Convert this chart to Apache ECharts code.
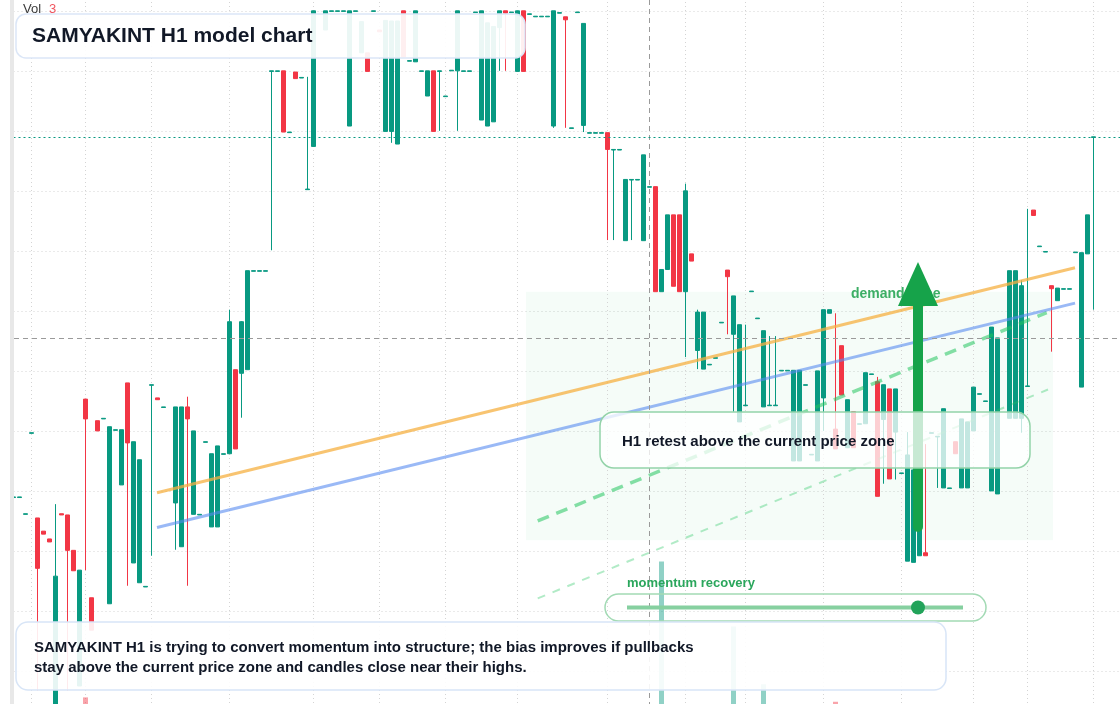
<!DOCTYPE html>
<html>
<head>
<meta charset="utf-8">
<title>SAMYAKINT H1 model chart</title>
<script src="https://cdn.jsdelivr.net/npm/echarts@6.0.0/dist/echarts.min.js"></script>
<style>
  html, body { margin: 0; padding: 0; background: #ffffff; }
  #chart { width: 1120px; height: 704px; }
</style>
</head>
<body>
<div id="chart"></div>
<script>
// H1 candles: [open, close] or [open, close, low, high]
// null = bar that is not on screen
const candles = [
  [103.89, 103.90], [103.89, 103.90], [103.61, 103.62], [104.96, 104.97], [103.55, 102.71, 100.68, 103.55],
  [103.33, 103.28], [103.20, 103.15], [100.25, 102.58, 100.25, 103.78], [103.62, 103.60], [103.60, 103.01, 100.68, 103.60],
  [103.01, 102.67], [100.75, 102.68], [105.53, 105.20, 102.68, 105.53], [102.22, 101.68], [105.17, 105.00],
  [105.20, 105.21], [102.12, 105.07], [105.01, 105.02], [104.10, 105.02], [105.80, 104.80, 102.42, 105.80],
  [102.80, 104.82], [102.47, 104.52], [102.40, 102.41], [105.76, 105.77, 102.92, 105.77], [105.55, 105.52],
  [105.39, 105.40], null, [103.80, 105.40, 103.02, 105.40], [103.07, 105.40], [105.40, 105.20, 102.42, 105.57],
  [103.61, 105.00], [103.60, 103.61], [104.81, 104.82], [103.40, 104.62], [103.40, 104.75],
  [104.61, 104.62], [104.62, 106.82, 104.62, 107.02], [106.02, 104.70], [105.96, 106.82, 105.22, 106.83], [106.02, 107.67],
  [107.66, 107.67], [107.66, 107.67], [107.66, 107.67], [110.99, 111.00, 108.01, 111.00], [110.99, 111.00],
  [111.00, 109.98], [109.97, 109.98], [110.98, 110.87], [110.88, 110.89], [109.02, 109.03, 109.02, 110.90],
  [109.74, 112.00], null, [111.68, 112.00], [111.99, 112.00], [111.99, 112.00],
  [111.99, 112.00], [110.08, 112.00], [111.99, 112.00], [111.30, 111.82], [111.30, 110.99],
  [111.99, 112.00], [111.68, 111.65], [109.99, 111.84], [109.99, 111.83, 109.80, 111.83], [109.78, 111.83],
  [112.00, 111.23], [111.16, 111.17], [111.15, 112.00], [110.99, 111.00], [110.58, 111.00],
  [111.00, 109.99], [110.99, 111.00, 110.00, 111.00], [110.57, 110.58], [111.00, 111.01], [111.00, 112.00, 110.00, 112.00],
  [110.99, 111.00], [110.99, 111.00], [111.97, 111.98], [110.18, 112.00], [110.08, 111.80],
  [110.15, 111.74], [111.72, 112.00, 111.00, 112.00], [112.00, 111.96, 111.00, 112.00], [111.97, 111.98], [110.99, 112.00],
  [112.00, 110.99], [111.94, 111.95], [111.90, 111.91], [111.90, 111.91], [111.90, 111.91],
  [110.08, 112.00, 110.05, 112.00], [111.96, 111.97], [111.90, 111.85, 110.05, 111.90], [110.04, 110.05], [111.97, 111.98],
  [110.09, 111.79, 109.98, 111.79], [109.96, 109.97], [109.96, 109.97], [109.96, 109.97], [109.97, 109.69, 108.18, 109.97],
  [109.68, 109.69, 108.18, 109.69], [109.68, 109.69], [108.17, 109.19], [109.18, 109.19, 108.18, 109.19], [109.18, 109.19],
  [108.17, 109.60], [109.06, 109.07], [109.07, 107.32], [107.32, 107.69], [107.69, 108.60],
  [108.60, 107.41], [108.60, 107.32], [107.32, 109.00, 106.23, 109.12], [107.95, 107.83], [106.34, 106.98, 106.03, 107.02],
  [106.03, 106.98], [106.10, 106.11], [106.21, 106.22], [106.80, 106.81], [107.68, 107.57, 106.61, 107.68],
  [106.61, 107.25, 105.32, 107.25], [105.15, 106.77], [105.42, 105.43, 105.42, 106.77], [107.32, 107.33], [106.87, 106.88],
  [105.40, 106.67], [105.42, 105.43, 105.42, 106.58], [105.42, 105.43, 105.42, 106.58], [106.00, 106.01], [106.00, 106.01],
  [104.50, 106.01], [104.50, 106.01], [105.76, 105.77], [104.60, 104.61], [104.50, 106.00],
  [105.55, 107.02, 105.00, 107.02], [106.96, 107.02], [105.03, 104.70, 104.70, 106.96], [106.42, 105.60], [104.72, 105.52],
  [105.32, 104.72], [105.11, 105.12], [105.12, 105.97], [105.94, 105.95], [105.82, 103.91, 103.91, 105.90],
  [105.19, 105.77, 104.12, 105.77], [105.70, 104.20], [104.98, 105.70, 104.19, 105.70], [104.29, 104.30], [102.83, 104.60, 102.83, 104.98],
  [102.81, 104.35], [102.92, 103.85], [102.97, 102.92, 102.92, 104.78], [104.96, 104.97], [104.90, 104.91, 104.05, 104.91],
  [104.05, 105.37], [104.04, 104.05], [104.82, 104.62], [104.05, 105.20], [104.05, 105.15],
  [105.00, 105.73], [105.61, 105.62], [105.49, 105.50], [104.00, 106.73], [103.95, 106.55],
  null, [105.21, 107.67], [105.21, 107.67], [105.21, 107.42, 104.97, 107.51], [105.74, 105.75, 105.74, 108.70],
  [108.68, 108.59], [108.07, 108.08], [107.98, 107.99], [107.42, 107.37, 106.32, 107.42], [107.17, 107.38],
  [107.36, 107.37], [107.36, 107.37], [107.97, 107.98], [105.73, 107.97], [107.95, 108.60],
  [109.89, 109.90, 107.02, 109.90]
]

// only a few volume bars show at the bottom: [bar index, volume]
const volumes = [[12, 46], [108, 232], [120, 143], [125, 64], [137, 40]]

// bars where the vertical time grid lines sit
const timeGridBars = [3, 12, 23, 36, 50, 61, 72, 84, 99, 112, 122, 135, 148, 160, 169, 180]

const lastPrice = 109.90
const emptyBars = 5 // right offset after the last candle

// overlays in [bar position, price]
const trendOrange = [[23.92, 103.97], [176.92, 107.72]]
const trendBlue = [[23.92, 103.39], [176.92, 107.13]]
const retestPath = [[87.37, 103.50], [172.2, 106.97]]
const lowerGuide = [[87.37, 102.21], [172.42, 105.69]]
const demandZone = [[85.42, 107.32], [173.25, 103.18]]
const arrowPath = [[150.75, 103.40], [150.75, 107.45]]

const GREEN = '#089981'
const RED = '#f23645'
const GRID_DOTS = { color: '#d4d4d4', width: 1, type: [1, 3] }
const FONT = '"Liberation Sans", Arial, Helvetica, sans-serif'

const total = candles.length + emptyBars
const categories = []
for (let i = 0; i < total; i++) categories.push(String(i))

const ohlc = categories.map((c, i) => {
  const d = candles[i]
  if (!d) return ['-', '-', '-', '-']
  const [o, cl, lo, hi] = d
  return [o, cl, lo != null ? lo : Math.min(o, cl), hi != null ? hi : Math.max(o, cl)]
})

const volData = categories.map(() => '-')
volumes.forEach(([idx, v]) => { volData[idx] = v })

const chart = echarts.init(document.getElementById('chart'))

const lineSeries = (data, color, width, type, z) => ({
  type: 'line',
  xAxisIndex: 1,
  yAxisIndex: 0,
  data: data,
  symbol: 'none',
  silent: true,
  z: z,
  lineStyle: { color: color, width: width, type: type },
  animation: false
})

const option = {
  animation: false,
  backgroundColor: '#ffffff',
  grid: {
    left: 13.5,
    top: 0,
    width: (total - 1) * 6,
    height: 731,
    containLabel: false,
    outerBoundsMode: 'none'
  },
  xAxis: [
    {
      type: 'category',
      data: categories,
      boundaryGap: false,
      show: false,
      axisLine: { show: false },
      axisTick: { show: false },
      axisLabel: { show: false },
      splitLine: { show: false }
    },
    { type: 'value', min: 0, max: total - 1, show: false, splitLine: { show: false } }
  ],
  yAxis: [
    {
      type: 'value',
      min: 100,
      max: 112.18,
      interval: 1,
      axisLine: { show: false },
      axisTick: { show: false },
      axisLabel: { show: false },
      splitLine: { show: true, showMinLine: false, showMaxLine: false, lineStyle: GRID_DOTS }
    },
    { type: 'value', min: 0, max: 1000, show: false, splitLine: { show: false } }
  ],
  series: [
    {
      // time grid + demand zone, kept under the candles
      name: 'demand zone',
      type: 'line',
      xAxisIndex: 1,
      yAxisIndex: 0,
      data: demandZone,
      symbol: 'none',
      lineStyle: { width: 0, opacity: 0 },
      silent: true,
      z: 0,
      markArea: {
        silent: true,
        z: 0,
        itemStyle: { color: 'rgba(34,197,94,0.045)' },
        data: [[{ coord: demandZone[0] }, { coord: demandZone[1] }]]
      },
      markLine: {
        silent: true,
        z: 0,
        symbol: 'none',
        label: { show: false },
        lineStyle: GRID_DOTS,
        data: timeGridBars.map((b) => ({ xAxis: b }))
      }
    },
    {
      name: 'Vol',
      type: 'bar',
      xAxisIndex: 0,
      yAxisIndex: 1,
      data: volData,
      barWidth: 5,
      z: 1,
      silent: true,
      itemStyle: {
        color: (p) => {
          const d = ohlc[p.dataIndex]
          return d[1] >= d[0] ? 'rgba(8,153,129,0.45)' : 'rgba(242,54,69,0.45)'
        }
      }
    },
    {
      name: 'SAMYAKINT H1',
      type: 'candlestick',
      xAxisIndex: 0,
      yAxisIndex: 0,
      data: ohlc,
      barWidth: 5,
      clip: true,
      z: 2,
      itemStyle: {
        color: GREEN,
        color0: RED,
        borderColor: GREEN,
        borderColor0: RED,
        borderWidth: 1
      },
      markLine: {
        silent: true,
        symbol: 'none',
        label: { show: false },
        lineStyle: { color: GREEN, width: 1, type: [2, 3] },
        data: [{ yAxis: lastPrice }]
      }
    },
    lineSeries(lowerGuide, 'rgba(34,197,94,0.35)', 2, [8, 8], 3),
    lineSeries(retestPath, 'rgba(34,197,94,0.55)', 3.5, [12, 8], 3),
    lineSeries(trendOrange, 'rgba(245,176,65,0.75)', 3, 'solid', 3),
    lineSeries(trendBlue, 'rgba(86,138,240,0.6)', 3, 'solid', 3),
    {
      name: 'arrow',
      type: 'line',
      xAxisIndex: 1,
      yAxisIndex: 0,
      silent: true,
      z: 5,
      data: [
        { value: arrowPath[0], symbol: 'none' },
        { value: arrowPath[1], symbol: 'triangle', symbolSize: [40, 44] }
      ],
      showSymbol: true,
      itemStyle: { color: '#16a34a', opacity: 1 },
      lineStyle: { color: '#16a34a', width: 10, cap: 'round' }
    }
  ],
  graphic: [
    // left scale edge
    { type: 'rect', z: 20, shape: { x: 10, y: 0, width: 4, height: 704 }, style: { fill: '#e8e8e8' } },
    // crosshair
    { type: 'line', z: 4, shape: { x1: 649.5, y1: 0, x2: 649.5, y2: 704 }, style: { stroke: '#9a9a9a', lineWidth: 1, lineDash: [5, 4] } },
    { type: 'line', z: 4, shape: { x1: 14, y1: 338.5, x2: 1120, y2: 338.5 }, style: { stroke: '#9a9a9a', lineWidth: 1, lineDash: [5, 4] } },
    // volume label
    { type: 'text', z: 20, style: { text: 'Vol', x: 23, y: 9, verticalAlign: 'middle', fill: '#3a3a3a', font: '13px ' + FONT } },
    { type: 'text', z: 20, style: { text: '3', x: 49, y: 9, verticalAlign: 'middle', fill: '#f0555f', font: '13px ' + FONT } },
    // title
    { type: 'rect', z: 10, shape: { x: 16, y: 14, width: 509, height: 44, r: 10 }, style: { fill: 'rgba(255,255,255,0.92)', stroke: '#dbe6f7', lineWidth: 1.5 } },
    { type: 'text', z: 11, style: { text: 'SAMYAKINT H1 model chart', x: 32, y: 36, verticalAlign: 'middle', fill: '#111827', font: 'bold 21px ' + FONT } },
    // demand zone label (under the arrow)
    { type: 'text', z: 3, style: { text: 'demand zone', x: 851, y: 294, verticalAlign: 'middle', fill: 'rgba(34,163,80,0.88)', font: 'bold 14px ' + FONT } },
    // retest callout
    { type: 'rect', z: 10, shape: { x: 600, y: 412, width: 430, height: 56, r: 14 }, style: { fill: 'rgba(255,255,255,0.76)', stroke: '#93d3a9', lineWidth: 1.5 } },
    { type: 'text', z: 11, style: { text: 'H1 retest above the current price zone', x: 622, y: 442, verticalAlign: 'middle', fill: '#111827', font: 'bold 15px ' + FONT } },
    // momentum slider
    { type: 'text', z: 11, style: { text: 'momentum recovery', x: 627, y: 583, verticalAlign: 'middle', fill: '#2aa65c', font: 'bold 13px ' + FONT } },
    { type: 'rect', z: 10, shape: { x: 605, y: 594, width: 381, height: 27, r: 13.5 }, style: { fill: 'none', stroke: '#a2dab4', lineWidth: 1.5 } },
    { type: 'line', z: 11, shape: { x1: 627, y1: 607.5, x2: 963, y2: 607.5 }, style: { stroke: '#86d0a0', lineWidth: 4 } },
    { type: 'circle', z: 12, shape: { cx: 918, cy: 607.5, r: 7 }, style: { fill: '#22a35a' } },
    // summary box
    { type: 'rect', z: 10, shape: { x: 16, y: 622, width: 930, height: 68, r: 12 }, style: { fill: 'rgba(255,255,255,0.9)', stroke: '#d8e5f7', lineWidth: 1.5 } },
    { type: 'text', z: 11, style: { text: 'SAMYAKINT H1 is trying to convert momentum into structure; the bias improves if pullbacks', x: 34, y: 648, verticalAlign: 'middle', fill: '#111827', font: 'bold 15px ' + FONT } },
    { type: 'text', z: 11, style: { text: 'stay above the current price zone and candles close near their highs.', x: 34, y: 668, verticalAlign: 'middle', fill: '#111827', font: 'bold 15px ' + FONT } }
  ]
}

chart.setOption(option)
</script>
</body>
</html>
